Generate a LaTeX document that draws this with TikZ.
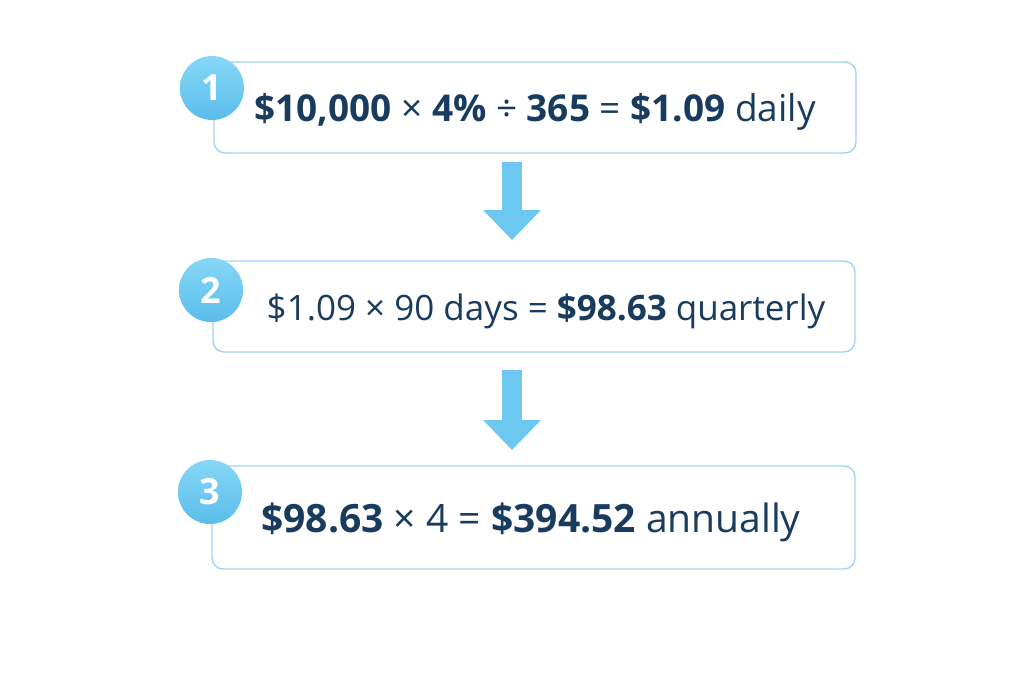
\documentclass[tikz,border=0pt]{standalone}
\usepackage{fontspec}
\setmainfont{Open Sans}
\usetikzlibrary{arrows.meta}

\definecolor{navy}{HTML}{183B5E}
\definecolor{boxline}{HTML}{9FD6EE}
\definecolor{stepblue}{HTML}{5BBDEB}
\definecolor{steplight}{HTML}{86D7F6}
\definecolor{arrowblue}{HTML}{6CC8F1}

\tikzset{
  stepbox/.style={draw=boxline, line width=1.4pt, rounded corners=11pt, fill=white},
  badge/.style={circle, minimum size=64pt, inner sep=0pt, top color=steplight,
    bottom color=stepblue, draw=none, text=white, font=\fontsize{36}{36}\selectfont\bfseries},
  formula/.style={text=navy, font=\fontsize{#1}{#1}\selectfont, inner sep=0pt, anchor=base},
  flow/.style={draw=arrowblue, line width=20pt,
    -{Triangle[width=56pt,length=30pt]}, shorten >=0pt}
}

\begin{document}
\begin{tikzpicture}[x=1pt,y=-1pt]
  \useasboundingbox (0,0) rectangle (1024,683);

        \begin{scope}[every node/.style={stepbox}]
          \node (b1) [minimum width=642pt, minimum height=91pt]  at (535,107.5) {};
          \node (b2) [minimum width=642pt, minimum height=91pt]  at (534,306.5) {};
          \node (b3) [minimum width=643pt, minimum height=103pt] at (533.5,517.5) {};
        \end{scope}

        \begin{scope}[every node/.style={badge}]
          \node (n1) at (212,88)  {1};
          \node (n2) at (211,290) {2};
          \node (n3) at (210,492) {3};
        \end{scope}

        \node (f1) [formula=37] at (535,121) {\textbf{\$10,000} × \textbf{4\%} ÷ \textbf{365} = \textbf{\$1.09} daily};
        \node (f2) [formula=35] at (546,320) {\$1.09 × 90 days = \textbf{\$98.63} quarterly};
        \node (f3) [formula=39] at (531,532) {\textbf{\$98.63} × 4 = \textbf{\$394.52} annually};

        \coordinate (a1) at (512,162);
        \coordinate (t1) at (512,240);
        \coordinate (a2) at (512,370);
        \coordinate (t2) at (512,450);

        \draw[flow] (a1) -- (t1);
        \draw[flow] (a2) -- (t2);

      \end{tikzpicture}
\end{document}
